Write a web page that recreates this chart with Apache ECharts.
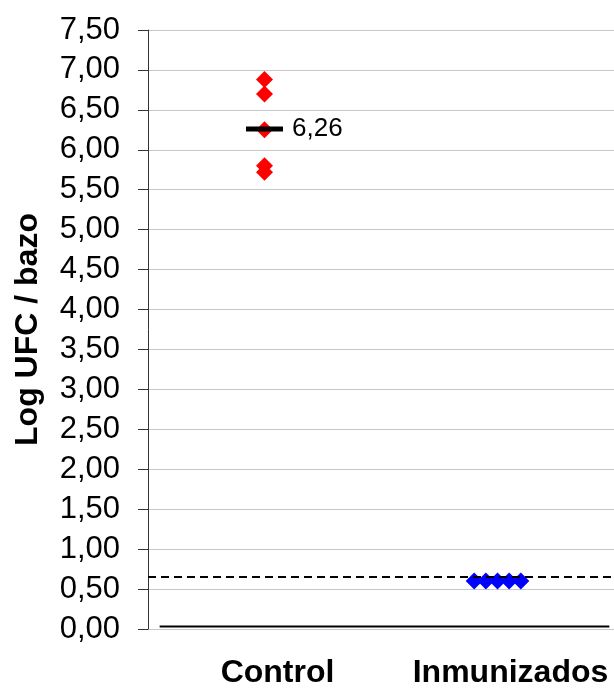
<!DOCTYPE html>
<html>
<head>
<meta charset="utf-8">
<script src="https://cdn.jsdelivr.net/npm/echarts@6/dist/echarts.min.js"></script>
<style>html,body{margin:0;padding:0;background:#fff}#c{width:614px;height:690px}</style>
</head>
<body>
<div id="c"></div>
<script>
var groups = ['Control', 'Inmunizados'];
var groupPos = [0.5, 1.5];
var controlX = [0.5, 0.5, 0.5, 0.5, 0.5];
var controlY = [6.88, 6.70, 6.25, 5.80, 5.72];
var immunX = [1.40, 1.45, 1.50, 1.55, 1.60];
var immunY = [0.60, 0.60, 0.60, 0.60, 0.60];
var controlMean = 6.26;
var detectionLimit = 0.65;
var baseLineX = [0.05, 1.98];
var baseLineY = [0.03, 0.03];

function pairs(xs, ys) { return xs.map(function (x, i) { return [x, ys[i]]; }); }
function fmt(v) { return v.toFixed(2).replace('.', ','); }

var chart = echarts.init(document.getElementById('c'));
chart.setOption({
  animation: false,
  backgroundColor: '#fff',
  grid: { left: 148, right: 0, top: 30, bottom: 61, containLabel: false, outerBoundsMode: 'none' },
  xAxis: {
    type: 'value', min: 0, max: 2, interval: 0.5,
    axisLine: { show: false }, axisTick: { show: false }, splitLine: { show: false },
    axisLabel: {
      margin: 28, fontSize: 32, fontWeight: 'bold', color: '#000',
      fontFamily: 'Liberation Sans, Arial, sans-serif',
      padding: [0, 0, 0, 26],
      formatter: function (v) {
        var i = groupPos.indexOf(v);
        return i >= 0 ? groups[i] : '';
      }
    }
  },
  yAxis: {
    type: 'value', min: 0, max: 7.5, interval: 0.5,
    name: 'Log UFC / bazo', nameLocation: 'middle', nameGap: 104,
    nameTextStyle: { fontSize: 32, fontWeight: 'bold', color: '#000', fontFamily: 'Liberation Sans, Arial, sans-serif' },
    axisLine: { show: true, lineStyle: { color: '#333', width: 1 } },
    axisTick: { show: true, length: 10, lineStyle: { color: '#333' } },
    splitLine: { show: true, lineStyle: { color: '#c8c8c8', width: 1 } },
    axisLabel: {
      margin: 28, fontSize: 31, color: '#000',
      fontFamily: 'Liberation Sans, Arial, sans-serif',
      formatter: fmt
    }
  },
  series: [
    {
      type: 'line', data: pairs(baseLineX, baseLineY), symbol: 'none',
      lineStyle: { color: '#000', width: 2 }, z: 1,
      markLine: {
        silent: true, symbol: 'none',
        lineStyle: { color: '#000', width: 2, type: [8, 5] },
        label: { show: false },
        data: [{ yAxis: detectionLimit }]
      }
    },
    {
      type: 'scatter', data: pairs(controlX, controlY), symbol: 'diamond', symbolSize: 17,
      itemStyle: { color: '#ff0000', opacity: 1 }, z: 3
    },
    {
      type: 'scatter', data: pairs(immunX, immunY), symbol: 'diamond', symbolSize: 17,
      itemStyle: { color: '#0000ff', opacity: 1 }, z: 3
    },
    {
      type: 'scatter', data: [[groupPos[0], controlMean]], symbol: 'rect', symbolSize: [37, 5],
      itemStyle: { color: '#000', opacity: 1 }, z: 4,
      label: {
        show: true, position: 'right', distance: 9, fontSize: 26, color: '#000',
        fontFamily: 'Liberation Sans, Arial, sans-serif',
        formatter: function (p) { return fmt(p.value[1]); }
      }
    }
  ]
});
</script>
</body>
</html>
